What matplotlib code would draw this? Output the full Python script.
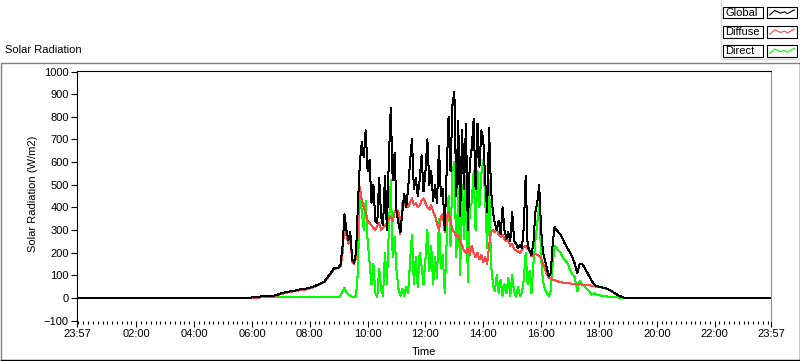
import numpy as np
import matplotlib
matplotlib.use('Agg')
import matplotlib.pyplot as plt
from matplotlib.patches import Rectangle

plt.rcParams['font.family'] = ['Liberation Sans', 'DejaVu Sans']
plt.rcParams['font.size'] = 8

# sample times, minutes of the day (23:57 the day before = -3)
night_am_t = [-3, 357]
morning_t = np.arange(360, 540, 10)     # 06:00 - 08:50
midday_t = np.arange(540, 1020, 4)      # 09:00 - 16:56
evening_t = np.arange(1020, 1140, 5)    # 17:00 - 18:55
night_pm_t = [1140, 1437]

# W/m2
global_morning = [3, 3, 7, 7, 8, 12, 20, 25, 30, 33, 38, 40, 45, 52, 62, 72, 100, 130]
diffuse_morning = [1, 0, 4, 4, 5, 9, 17, 22, 27, 30, 35, 37, 42, 49, 59, 69, 97, 127]
direct_morning = [2, 3, 3, 3, 3, 3, 3, 3, 3, 3, 3, 3, 3, 3, 3, 3, 3, 3]

global_midday = [135, 150, 230, 370, 300, 255, 290, 170, 155, 200,
                 420, 600, 690, 620, 740, 560, 610, 420, 500, 340,
                 330, 530, 360, 320, 540, 300, 610, 840, 520, 640,
                 380, 330, 290, 380, 460, 400, 480, 600, 700, 480,
                 530, 450, 520, 630, 470, 560, 700, 500, 560, 430,
                 500, 420, 670, 450, 480, 300, 560, 800, 560, 850,
                 910, 450, 780, 360, 740, 480, 770, 300, 600, 660,
                 790, 480, 770, 580, 740, 700, 520, 380, 750, 480,
                 380, 330, 300, 340, 280, 400, 300, 260, 290, 250,
                 380, 250, 240, 220, 235, 220, 310, 540, 230, 210,
                 190, 240, 380, 420, 500, 300, 200, 165, 130, 95,
                 110, 240, 315, 300, 290, 280, 265, 245, 230, 215]
diffuse_midday = [132, 140, 200, 330, 280, 240, 270, 160, 150, 180,
                  300, 490, 430, 400, 380, 340, 330, 320, 310, 300,
                  320, 330, 300, 310, 320, 330, 350, 360, 340, 380,
                  390, 380, 280, 420, 410, 430, 400, 420, 440, 410,
                  420, 400, 410, 430, 440, 420, 400, 390, 410, 380,
                  360, 330, 300, 360, 370, 290, 360, 380, 340, 300,
                  290, 270, 280, 250, 230, 210, 200, 220, 190, 230,
                  200, 180, 200, 170, 190, 160, 180, 150, 230, 290,
                  300, 290, 300, 280, 270, 280, 260, 250, 255, 230,
                  240, 215, 210, 205, 200, 210, 225, 230, 220, 205,
                  185, 195, 195, 190, 185, 175, 150, 130, 105, 90,
                  85, 80, 78, 75, 72, 70, 68, 67, 66, 65]
direct_midday = [3, 10, 30, 45, 25, 15, 10, 3, 3, 10,
                 120, 480, 380, 300, 430, 250, 160, 60, 150, 20,
                 5, 130, 40, 10, 200, 60, 300, 520, 180, 270,
                 120, 40, 10, 40, 10, 50, 20, 160, 280, 60,
                 180, 50, 200, 140, 60, 170, 300, 120, 230, 60,
                 180, 90, 350, 130, 190, 20, 250, 450, 230, 560,
                 600, 180, 480, 100, 500, 260, 540, 70, 400, 420,
                 560, 300, 560, 400, 550, 610, 430, 220, 520, 150,
                 60, 30, 100, 20, 80, 10, 60, 20, 90, 10,
                 100, 30, 5, 50, 10, 20, 80, 200, 60, 120,
                 20, 150, 250, 330, 410, 180, 70, 40, 20, 10,
                 30, 150, 230, 220, 210, 200, 185, 170, 160, 150]

global_evening = [200, 180, 150, 110, 150, 150, 135, 115, 95, 75, 60, 52,
                  50, 47, 45, 42, 38, 32, 25, 18, 12, 7, 3, 0]
diffuse_evening = [64, 63, 62, 61, 60, 59, 58, 57, 56, 54, 52, 50,
                   48, 46, 44, 41, 37, 31, 24, 17, 11, 6, 2, 0]
direct_evening = [125, 105, 90, 30, 75, 60, 50, 40, 30, 15, 20, 15,
                  12, 10, 8, 7, 6, 5, 4, 3, 2, 1, 0, 0]

hour_ticks = [-0.05, 2, 4, 6, 8, 10, 12, 14, 16, 18, 20, 22, 23.95]
hour_labels = ['23:57', '02:00', '04:00', '06:00', '08:00', '10:00', '12:00',
               '14:00', '16:00', '18:00', '20:00', '22:00', '23:57']


def series(morning, midday, evening):
    return np.concatenate([[0, 0], morning, midday, evening, [0, 0]])


t = np.concatenate([night_am_t, morning_t, midday_t, evening_t, night_pm_t]) / 60.0
glob = series(global_morning, global_midday, global_evening)
diff = series(diffuse_morning, diffuse_midday, diffuse_evening)
dirc = series(direct_morning, direct_midday, direct_evening)

W, H = 800, 361
fig = plt.figure(figsize=(W / 100, H / 100), dpi=100)

# frame, title and legend drawn in pixel coordinates
bg = fig.add_axes([0, 0, 1, 1])
bg.set_xlim(0, W)
bg.set_ylim(H, 0)
bg.axis('off')
bg.plot([0.5, 0.5, 799], [359.5, 62.5, 62.5], color='#808080', lw=1)
bg.plot([0.5, 799.5, 799.5], [359.5, 359.5, 62.5], color='black', lw=1)
bg.text(5, 50, 'Solar Radiation', va='center', ha='left')

bg.plot([720.5, 720.5, 800], [0, 58.5, 58.5], color='#d8d8d8', lw=1)
zig_x = np.array([0.06, 0.24, 0.44, 0.6, 0.69, 0.94])
zig_y = np.array([0.77, 0.29, 0.57, 0.43, 0.63, 0.23])
legend_rows = [('Global', 'black', 6.7), ('Diffuse', '#ff4848', 26.0), ('Direct', '#00ff00', 45.2)]
for name, col, top in legend_rows:
    bg.add_patch(Rectangle((723, top), 40, 11.5, fill=False, ec='black', lw=0.8))
    bg.add_patch(Rectangle((767, top), 30, 11.5, fill=False, ec='black', lw=0.8))
    bg.text(725, top + 6, name, va='center', ha='left')
    bg.plot(768 + zig_x * 28, top + 1 + zig_y * 9.5, color=col, lw=0.8)

ax = fig.add_axes([77 / W, 1 - 320.6 / H, 694 / W, (320.6 - 71.5) / H])
ax.plot(t, dirc, color='#00ff00', lw=0.72, antialiased=False)
ax.plot(t, diff, color='#ff4848', lw=0.72, antialiased=False)
ax.plot(t, glob, color='black', lw=0.72, antialiased=False)

ax.set_xlim(-0.05, 23.95)
ax.set_ylim(-100, 1000)
ax.set_yticks(range(-100, 1001, 100))
ax.set_xticks(hour_ticks)
ax.set_xticklabels(hour_labels)
ax.set_xticks(np.arange(0, 24, 1 / 6), minor=True)
ax.tick_params(axis='both', which='major', direction='out', length=4, width=0.8, pad=2)
ax.tick_params(axis='x', which='minor', direction='out', length=2.5, width=0.8)

ax.spines['left'].set_color('black')
ax.spines['top'].set_color('black')
ax.spines['right'].set_color('#909090')
ax.spines['bottom'].set_visible(False)
for s in ax.spines.values():
    s.set_linewidth(0.8)

fig.text(33 / W, 1 - 194 / H, 'Solar Radiation (W/m2)', rotation=90, va='center', ha='center')
fig.text(424 / W, 1 - 352 / H, 'Time', va='center', ha='center')

fig.savefig('out.png', dpi=100)
